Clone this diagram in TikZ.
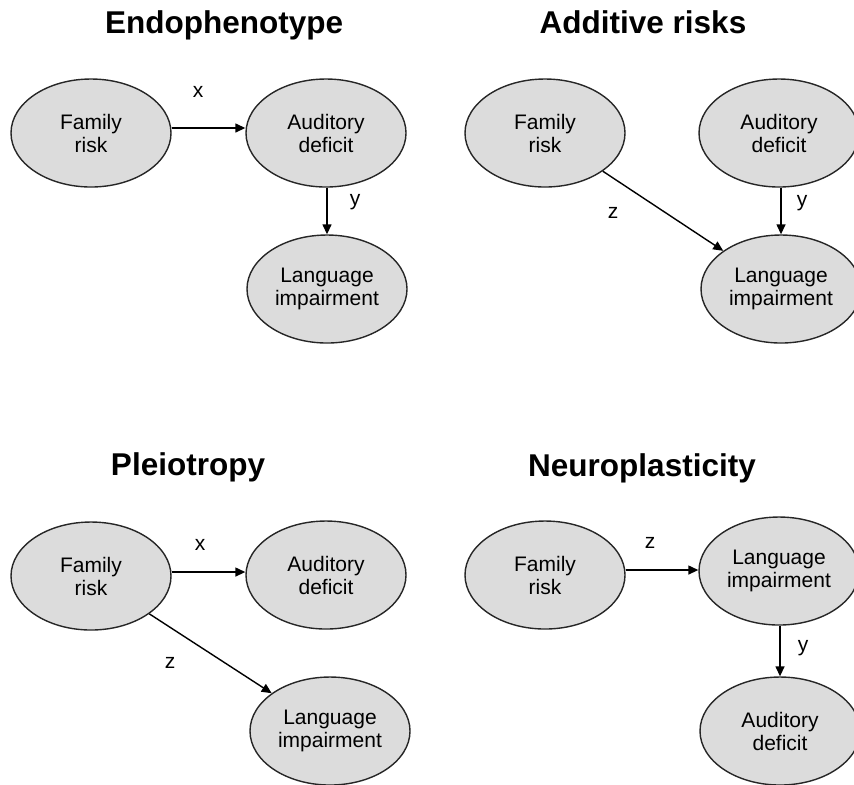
\documentclass[tikz,border=0pt]{standalone}
\usepackage{fontspec}
\setmainfont{Liberation Sans}
\usetikzlibrary{shapes.geometric,arrows.meta}
\definecolor{ovalgray}{HTML}{DCDCDC}
\begin{document}
\begin{tikzpicture}[
        x=0.5pt, y=-0.5pt,
        var/.style={ellipse, draw=black!85, line width=0.7pt, fill=ovalgray, minimum width=80pt, minimum height=54pt, inner sep=0pt, align=center, font=\fontsize{10.5}{11.5}\selectfont},
        link/.style={-{Triangle[length=5pt,width=4.5pt]}, line width=0.7pt, black},
        coef/.style={font=\fontsize{10.5}{11.5}\selectfont, inner sep=0pt},
        heading/.style={anchor=base, font=\fontsize{15.75}{18}\selectfont\bfseries, inner sep=0pt}
    ]
        \useasboundingbox (0,0) rectangle (854,784);

        % === Endophenotype ===
        \node[heading] (T1) at (224,33) {Endophenotype};
        \node[var] (F1) at (91,133) {Family\\risk};
        \node[var] (A1) at (326,133) {Auditory\\deficit};
        \node[var] (L1) at (327,289) {Language\\impairment};
        \draw[link] ([yshift=2.5pt]F1.east) -- ([yshift=2.5pt]A1.west);
        \draw[link] (A1.south -| L1.north) -- (L1.north);
        \node[coef] (x1) at (198,92) {x};
        \node[coef] (y1) at (355,202) {y};

        % === Additive risks ===
        \node[heading] (T2) at (643,33) {Additive risks};
        \node[var] (F2) at (545,133) {Family\\risk};
        \node[var] (A2) at (779,133) {Auditory\\deficit};
        \node[var] (L2) at (781,289) {Language\\impairment};
        \draw[link] (F2) -- (L2);
        \draw[link] (A2.south -| L2.north) -- (L2.north);
        \node[coef] (z2) at (613,213) {z};
        \node[coef] (y2) at (802,203) {y};

        % === Pleiotropy ===
        \node[heading] (T3) at (188,475) {Pleiotropy};
        \node[var] (F3) at (91,576) {Family\\risk};
        \node[var] (A3) at (326,575) {Auditory\\deficit};
        \node[var] (L3) at (330,731) {Language\\impairment};
        \draw[link] ([yshift=2pt]F3.east) -- ([yshift=2pt]F3.east -| A3.west);
        \draw[link] (F3) -- (L3);
        \node[coef] (x3) at (200,545) {x};
        \node[coef] (z3) at (170,663) {z};

        % === Neuroplasticity ===
        \node[heading] (T4) at (642,476) {Neuroplasticity};
        \node[var] (F4) at (545,575) {Family\\risk};
        \node[var] (L4) at (779,571) {Language\\impairment};
        \node[var] (A4) at (780,731) {Auditory\\deficit};
        \draw[link] ([yshift=2.5pt]F4.east) -- ([yshift=2.5pt]F4.east -| L4.west);
        \draw[link] (L4.south -| A4.north) -- (A4.north);
        \node[coef] (z4) at (650,543) {z};
        \node[coef] (y4) at (803,648) {y};
    \end{tikzpicture}
\end{document}
